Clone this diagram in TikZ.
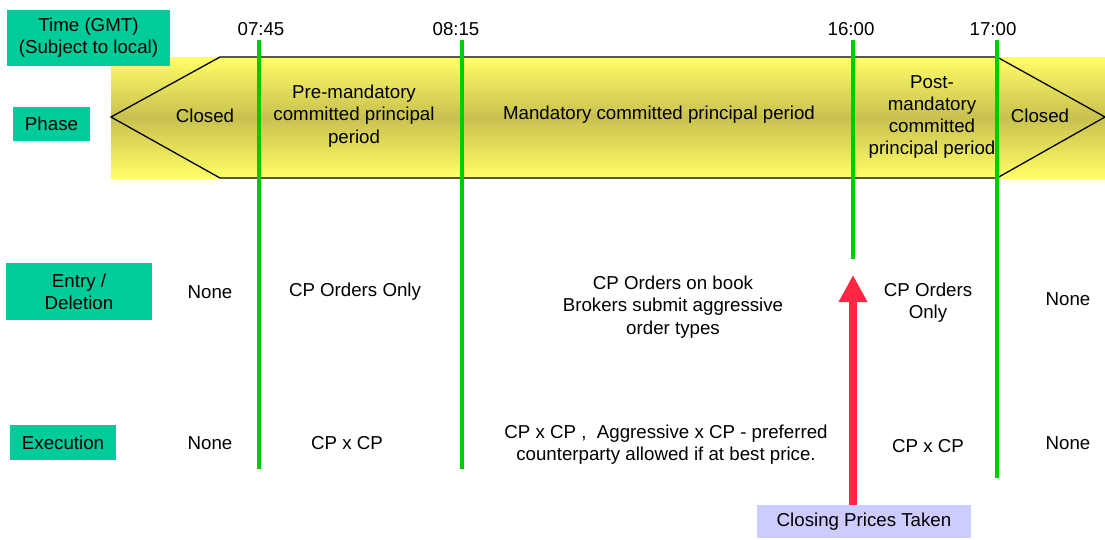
\documentclass[tikz,border=0pt]{standalone}
\usepackage{fontspec}
\setmainfont{Liberation Sans}
\usetikzlibrary{arrows.meta}
\definecolor{teal}{RGB}{0,204,153}
\definecolor{gline}{RGB}{0,204,0}
\definecolor{redarr}{RGB}{255,40,68}
\definecolor{lav}{RGB}{204,204,255}
\definecolor{ylight}{RGB}{255,255,102}
\definecolor{ydark}{RGB}{200,192,80}
\begin{document}
\begin{tikzpicture}[x=1pt,y=-1pt,
  every node/.style={font=\fontsize{18.7}{22.3}\selectfont, inner sep=0pt, align=center},
  txt/.style={yshift=-2pt},
  labelbox/.style={fill=teal},
  gl/.style={draw=gline, line width=3.4pt},
  phaseline/.style={draw=black, line width=1.3pt, line join=miter}]
\useasboundingbox (0,0) rectangle (1105,539);
% band
\shade[top color=ylight, bottom color=ylight, middle color=ydark] (111,57) rectangle (1105,178);
\draw[phaseline] (111,117) -- (220,57) -- (997,57) -- (1105,117) -- (997,178) -- (220,178) -- cycle;
% row labels
\node[labelbox, minimum width=163pt, minimum height=56pt] (time) at (88.5,37.5) {Time (GMT)\\(Subject to local)};
\node[labelbox, minimum width=77pt, minimum height=34pt] (phase) at (51.5,124) {Phase};
\node[labelbox, minimum width=146pt, minimum height=57pt] (entry) at (79,291.5) {Entry /\\Deletion};
\node[labelbox, minimum width=106pt, minimum height=35pt] (exec) at (63,442.5) {Execution};
% times
\node[txt] (t1) at (261,27) {07:45};
\node[txt] (t2) at (456,27) {08:15};
\node[txt] (t3) at (851,27) {16:00};
\node[txt] (t4) at (993,27) {17:00};
% green lines
\coordinate (l1a) at (259,40); \coordinate (l1b) at (259,469);
\coordinate (l2a) at (462,40); \coordinate (l2b) at (462,469);
\coordinate (l3a) at (853,40); \coordinate (l3b) at (853,259);
\coordinate (l4a) at (997,40); \coordinate (l4b) at (997,478);
\draw[gl] (l1a) -- (l1b);
\draw[gl] (l2a) -- (l2b);
\draw[gl] (l3a) -- (l3b);
\draw[gl] (l4a) -- (l4b);
% phases
\node[txt] (p1) at (205,114) {Closed};
\node[txt] (p2) at (354,114) {Pre-mandatory\\committed principal\\period};
\node[txt] (p3) at (659,113) {Mandatory committed principal period};
\node[txt] (p4) at (932,115) {Post-\\mandatory\\committed\\principal period};
\node[txt] (p5) at (1040,114) {Closed};
% entry
\node[txt] (e1) at (210,290) {None};
\node[txt] (e2) at (355,290) {CP Orders Only};
\node[txt] (e3) at (673,305) {CP Orders on book\\Brokers submit aggressive\\order types};
\node[txt] (e4) at (928,301) {CP Orders\\Only};
\node[txt] (e5) at (1068,297) {None};
% execution
\node[txt] (x1) at (210,441) {None};
\node[txt] (x2) at (347,441) {CP x CP};
\node[txt] (x3) at (666,443) {CP x CP ,\ \ Aggressive x CP - preferred\\counterparty allowed if at best price.};
\node[txt] (x4) at (928,444) {CP x CP};
\node[txt] (x5) at (1068,441) {None};
% closing
\node[fill=lav, minimum width=214pt, minimum height=33pt] (close) at (864,521.5) {Closing Prices Taken};
\coordinate (tip) at (853,275);
\draw[draw=redarr, line width=7.5pt, -{Triangle[width=27pt,length=27pt]}] (close.north -| tip) -- (tip);
\end{tikzpicture}
\end{document}
